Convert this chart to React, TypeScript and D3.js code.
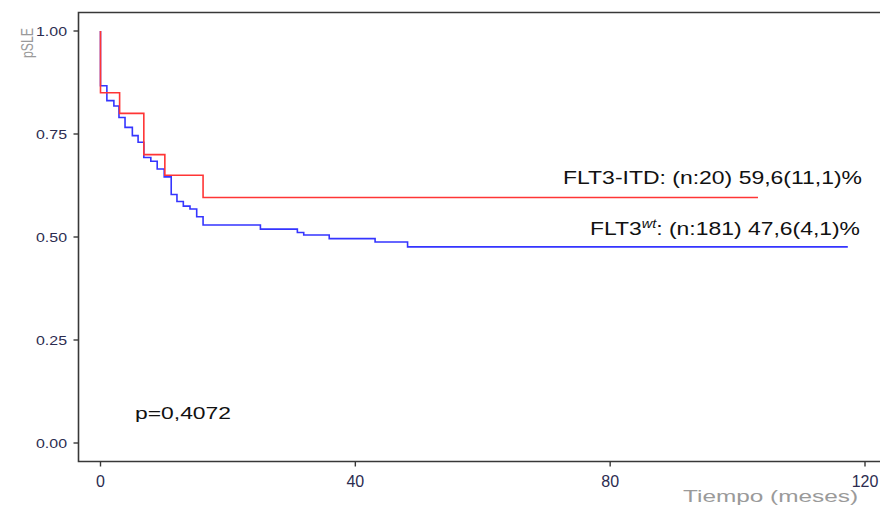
import React, { useRef, useEffect } from "react";
import * as d3 from "d3";

// Kaplan-Meier steps (time in months, survival fraction)
const itdTimes = [0, 0, 3, 6.8, 10.1, 16.1, 103.2];
const itdSurv = [1, 0.85, 0.8, 0.7, 0.65, 0.596, 0.596];

const wtTimes = [
  0, 0, 1.0, 2.1, 2.9, 3.85, 5.0, 5.9, 6.8, 7.9, 8.9, 10.0, 11.1, 12.0, 13.0,
  14.05, 15.1, 16.1, 25.1, 30.9, 31.9, 35.9, 43.1, 48.2, 117.3,
];
const wtSurv = [
  1, 0.867, 0.831, 0.818, 0.79, 0.766, 0.746, 0.73, 0.693, 0.684, 0.665, 0.646,
  0.603, 0.586, 0.575, 0.568, 0.549, 0.529, 0.519, 0.511, 0.505, 0.496, 0.488,
  0.476, 0.476,
];

const xTicks = [0, 40, 80, 120];
const yTicks = [0, 0.25, 0.5, 0.75, 1];

const itdLabel = "FLT3-ITD: (n:20) 59,6(11,1)%";
const wtLabelHead = "FLT3";
const wtLabelSup = "wt";
const wtLabelTail = ": (n:181) 47,6(4,1)%";
const pLabel = "p=0,4072";
const xTitle = "Tiempo (meses)";
const yTitle = "pSLE";

const App = () => {
  const svgRef = useRef(null);

  useEffect(() => {
    const svg = d3.select(svgRef.current);
    svg.selectAll("*").remove();

    const width = 880,
      height = 506;
    const left = 78.5,
      top = 12.5,
      bottom = 461.5;

    const x = d3.scaleLinear().domain([0, 120]).range([100.5, 865]);
    const y = d3.scaleLinear().domain([0, 1]).range([443, 31]);

    svg.append("rect").attr("width", width).attr("height", height).attr("fill", "#fff");

    const axisColor = "#383838";
    const tickText = "#2c2c50";
    const font = "'Liberation Sans', Arial, sans-serif";

    // frame: left, top and bottom lines (right side open)
    svg
      .append("path")
      .attr("d", `M${width},${top}H${left}V${bottom}H${width}`)
      .attr("fill", "none")
      .attr("stroke", axisColor)
      .attr("stroke-width", 1.6);

    // y ticks
    yTicks.forEach((v) => {
      svg
        .append("line")
        .attr("x1", left - 5)
        .attr("x2", left)
        .attr("y1", y(v))
        .attr("y2", y(v))
        .attr("stroke", axisColor)
        .attr("stroke-width", 1.4);
      svg
        .append("text")
        .attr("x", 67)
        .attr("y", y(v) + 4.5)
        .attr("text-anchor", "end")
        .attr("font-family", font)
        .attr("font-size", "13px")
        .attr("textLength", 31)
        .attr("lengthAdjust", "spacingAndGlyphs")
        .attr("fill", tickText)
        .text(d3.format(".2f")(v));
    });

    // x ticks
    xTicks.forEach((t) => {
      svg
        .append("line")
        .attr("x1", x(t))
        .attr("x2", x(t))
        .attr("y1", bottom)
        .attr("y2", bottom + 5)
        .attr("stroke", axisColor)
        .attr("stroke-width", 1.4);
      svg
        .append("text")
        .attr("x", x(t))
        .attr("y", 487)
        .attr("text-anchor", "middle")
        .attr("font-family", font)
        .attr("font-size", "16px")
        .attr("fill", tickText)
        .text(t);
    });

    // axis titles
    svg
      .append("text")
      .attr("x", 683)
      .attr("y", 502)
      .attr("font-family", font)
      .attr("font-size", "16px")
      .attr("textLength", 175)
      .attr("lengthAdjust", "spacingAndGlyphs")
      .attr("fill", "#9a9a9a")
      .text(xTitle);

    svg
      .append("text")
      .attr("transform", "translate(33,43) rotate(-90)")
      .attr("text-anchor", "middle")
      .attr("font-family", font)
      .attr("font-size", "17px")
      .attr("textLength", 30)
      .attr("lengthAdjust", "spacingAndGlyphs")
      .attr("fill", "#9a9a9a")
      .text(yTitle);

    // curves
    const line = d3
      .line()
      .x((d) => x(d[0]))
      .y((d) => y(d[1]))
      .curve(d3.curveStepAfter);

    svg
      .append("path")
      .attr("d", line(wtTimes.map((t, i) => [t, wtSurv[i]])))
      .attr("fill", "none")
      .attr("stroke", "#3535ff")
      .attr("stroke-width", 1.6);

    svg
      .append("path")
      .attr("d", line(itdTimes.map((t, i) => [t, itdSurv[i]])))
      .attr("fill", "none")
      .attr("stroke", "#ff3535")
      .attr("stroke-width", 1.6);

    // labels
    svg
      .append("text")
      .attr("x", 563)
      .attr("y", 183.5)
      .attr("font-family", font)
      .attr("font-size", "19px")
      .attr("textLength", 299)
      .attr("lengthAdjust", "spacingAndGlyphs")
      .attr("fill", "#111")
      .text(itdLabel);

    const wt = svg
      .append("text")
      .attr("x", 590)
      .attr("y", 235)
      .attr("font-family", font)
      .attr("font-size", "19px")
      .attr("textLength", 270)
      .attr("lengthAdjust", "spacingAndGlyphs")
      .attr("fill", "#111");
    wt.append("tspan").text(wtLabelHead);
    wt.append("tspan")
      .attr("dy", -7)
      .attr("font-size", "12px")
      .attr("font-style", "italic")
      .text(wtLabelSup);
    wt.append("tspan").attr("dy", 7).text(wtLabelTail);

    svg
      .append("text")
      .attr("x", 135)
      .attr("y", 418.5)
      .attr("font-family", font)
      .attr("font-size", "16px")
      .attr("textLength", 96)
      .attr("lengthAdjust", "spacingAndGlyphs")
      .attr("fill", "#111")
      .text(pLabel);
  }, []);

  return (
    <svg
      ref={svgRef}
      width={880}
      height={506}
      style={{ position: "absolute", left: 0, top: 0, display: "block" }}
    />
  );
};

export default App;
